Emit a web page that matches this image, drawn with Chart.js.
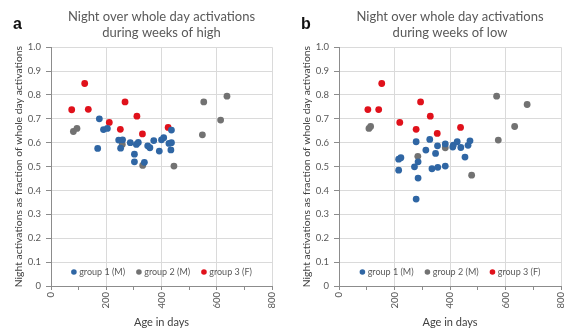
<!DOCTYPE html>
<html>
<head>
<meta charset="utf-8">
<script src="https://cdn.jsdelivr.net/npm/chart.js@4.4.1/dist/chart.umd.min.js"></script>
<style>
  body { margin: 0; background: #fff; width: 578px; height: 335px; overflow: hidden; position: relative; }
  canvas { position: absolute; top: 0; }
  .panel-letter { position: absolute; top: 15px; font: bold 16px "Liberation Sans", Arial, sans-serif; line-height: 18px; color: #111; }
</style>
</head>
<body>
<canvas id="chartHigh" width="289" height="335" style="left:0"></canvas>
<canvas id="chartLow" width="290" height="335" style="left:288px"></canvas>
<div class="panel-letter" style="left:13px">a</div>
<div class="panel-letter" style="left:301px">b</div>
<script>
// weeks of high: age (days) and night/whole-day fraction per group
const highAge1 = [175, 169, 190, 204, 245, 259, 252, 287, 309, 316, 302, 302, 338, 350, 358, 372, 392, 400, 408, 427, 436, 434, 436];
const highNight1 = [0.70, 0.576, 0.655, 0.66, 0.611, 0.612, 0.577, 0.60, 0.593, 0.601, 0.552, 0.52, 0.518, 0.587, 0.579, 0.609, 0.565, 0.612, 0.621, 0.597, 0.60, 0.57, 0.653];
const highAge2 = [81, 94, 258, 332, 445, 553, 548, 614, 637];
const highNight2 = [0.647, 0.66, 0.593, 0.505, 0.502, 0.771, 0.633, 0.695, 0.795];
const highAge3 = [75, 122, 135, 211, 268, 251, 311, 331, 424];
const highNight3 = [0.738, 0.848, 0.74, 0.685, 0.771, 0.656, 0.711, 0.637, 0.664];

// weeks of low
const lowAge1 = [215, 215, 223, 272, 278, 285, 285, 278, 313, 327, 335, 348, 355, 356, 383, 383, 410, 412, 426, 439, 454, 465, 472];
const lowNight1 = [0.485, 0.531, 0.537, 0.499, 0.604, 0.52, 0.452, 0.364, 0.569, 0.614, 0.491, 0.555, 0.587, 0.497, 0.595, 0.502, 0.582, 0.59, 0.604, 0.58, 0.54, 0.589, 0.608];
const lowAge2 = [108, 114, 284, 383, 478, 568, 574, 633, 678];
const lowNight2 = [0.66, 0.668, 0.543, 0.579, 0.464, 0.795, 0.611, 0.668, 0.76];
const lowAge3 = [104, 143, 154, 219, 278, 294, 329, 354, 438];
const lowNight3 = [0.739, 0.739, 0.848, 0.685, 0.656, 0.771, 0.711, 0.639, 0.664];

const groupNames = ['group 1 (M)', 'group 2 (M)', 'group 3 (F)'];
const groupColors = ['#2f66a4', '#727272', '#e0111b'];

const textGray = '#595959';
const axisGray = '#8c8c8c';
const gridGray = '#dadada';
const FONT = 'Lato, "Open Sans", sans-serif';

// legend sits inside the bottom of the plot area
const insideLegend = {
  id: 'insideLegend',
  afterDraw(chart) {
    const { ctx, chartArea } = chart;
    ctx.save();
    ctx.font = '9px ' + FONT;
    const r = 2.8, gap = 2.5, spacing = 11;
    const items = chart.data.datasets.map(ds => ({
      text: ds.label,
      color: ds.backgroundColor,
      w: 2 * r + gap + ctx.measureText(ds.label).width
    }));
    const total = items.reduce((s, it) => s + it.w, 0) + spacing * (items.length - 1);
    let x = (chartArea.left + chartArea.right) / 2 - total / 2;
    const y = chartArea.bottom - 14;
    ctx.textBaseline = 'middle';
    items.forEach(it => {
      ctx.fillStyle = it.color;
      ctx.beginPath();
      ctx.arc(x + r, y, r, 0, Math.PI * 2);
      ctx.fill();
      ctx.fillStyle = textGray;
      ctx.fillText(it.text, x + 2 * r + gap, y);
      x += it.w + spacing;
    });
    ctx.restore();
  }
};

function toPoints(xs, ys) {
  return xs.map((x, i) => ({ x, y: ys[i] }));
}

function makeChart(id, titleLines, groups) {
  return new Chart(document.getElementById(id), {
    type: 'scatter',
    data: {
      datasets: groups.map((g, i) => ({
        label: groupNames[i],
        data: toPoints(g[0], g[1]),
        backgroundColor: groupColors[i],
        borderWidth: 0,
        pointRadius: 3.4
      }))
    },
    options: {
      responsive: false,
      animation: false,
      layout: { padding: { top: 0, right: 17, bottom: 0, left: 0 } },
      plugins: {
        legend: { display: false },
        tooltip: { enabled: false },
        title: {
          display: true,
          fullSize: false,
          text: titleLines,
          color: textGray,
          font: { family: FONT, size: 13, weight: 'normal', lineHeight: 1.2 },
          padding: { top: 9, bottom: 7 }
        }
      },
      scales: {
        x: {
          type: 'linear',
          min: 0,
          max: 800,
          ticks: {
            stepSize: 100,
            autoSkip: false,
            minRotation: 90,
            maxRotation: 90,
            padding: 2,
            color: textGray,
            font: { family: FONT, size: 9.5 },
            callback: v => (v % 200 === 0 ? v : '')
          },
          grid: {
            color: c => (c.tick && c.tick.value % 200 === 0 ? gridGray : 'rgba(0,0,0,0)'),
            tickColor: axisGray,
            tickLength: 4
          },
          border: { color: axisGray },
          title: {
            display: true,
            text: 'Age in days',
            color: '#404040',
            font: { family: FONT, size: 11 },
            padding: { top: 0, bottom: 6 }
          },
          afterFit: s => { s.height = 49; }
        },
        y: {
          min: 0,
          max: 1,
          ticks: {
            stepSize: 0.1,
            padding: 5,
            color: textGray,
            font: { family: FONT, size: 9.5 }
          },
          grid: { color: gridGray, tickColor: axisGray, tickLength: 5 },
          border: { color: axisGray },
          title: {
            display: true,
            text: 'Night activations as fraction of whole day activations',
            color: '#404040',
            font: { family: FONT, size: 10.4 },
            padding: { top: 12, bottom: 0 }
          },
          afterFit: s => { s.width = 51; }
        }
      }
    },
    plugins: [insideLegend]
  });
}

makeChart('chartHigh', ['Night over whole day activations', 'during weeks of high'], [
  [highAge1, highNight1], [highAge2, highNight2], [highAge3, highNight3]
]);
makeChart('chartLow', ['Night over whole day activations', 'during weeks of low'], [
  [lowAge1, lowNight1], [lowAge2, lowNight2], [lowAge3, lowNight3]
]);
</script>
</body>
</html>
